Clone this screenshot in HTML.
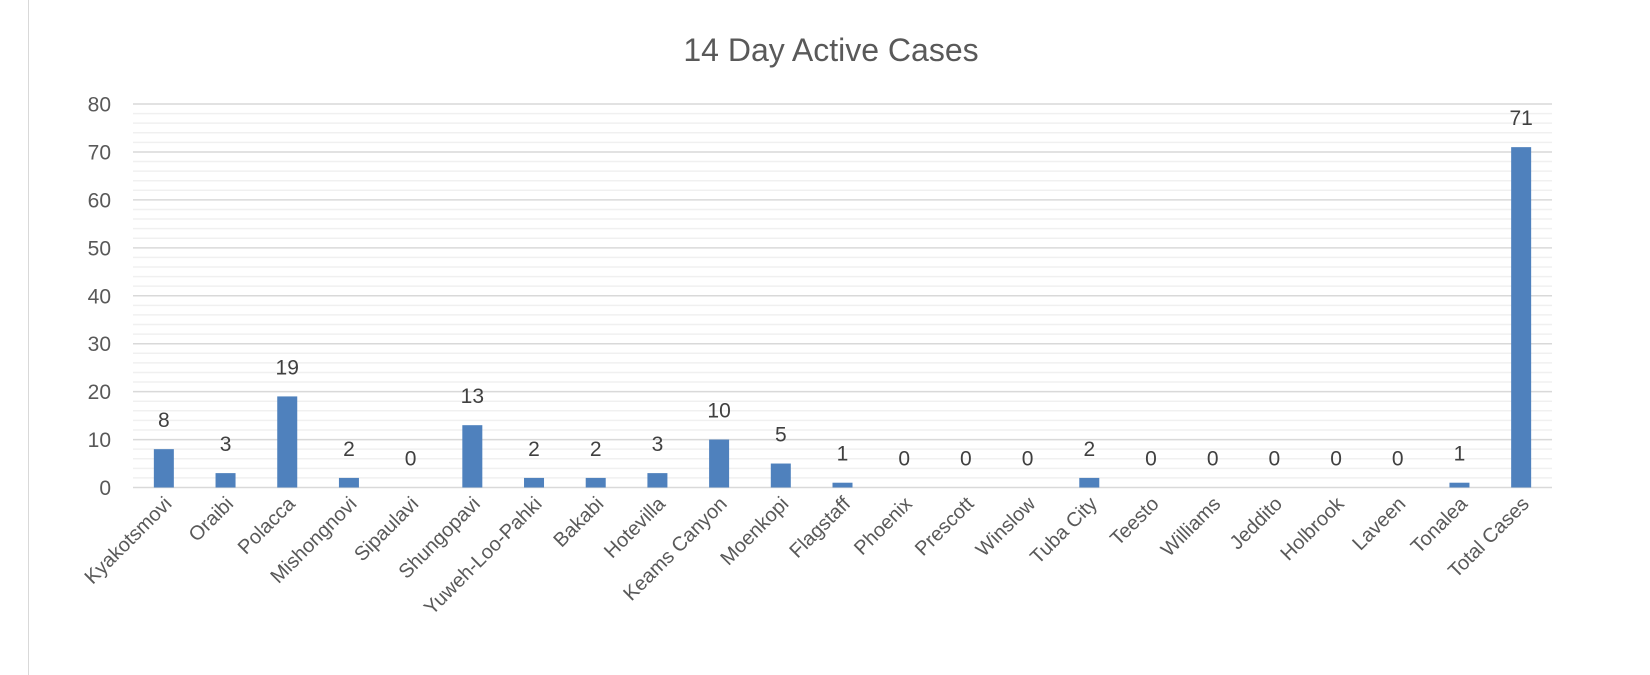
<!DOCTYPE html>
<html><head><meta charset="utf-8"><style>
html,body{margin:0;padding:0;background:#fff;}
svg{display:block;font-family:"Liberation Sans",Calibri,sans-serif;}
</style></head><body>
<svg id="c" width="1650" height="675">
<line x1="28.5" y1="0" x2="28.5" y2="675" stroke="#d9d9d9"/>
<text x="831" y="61" text-anchor="middle" font-size="32" fill="#595959">14 Day Active Cases</text>
<g id="grid"></g><g id="bars"></g><g id="labels"></g>
</svg>
<script>
const categories=["Kyakotsmovi","Oraibi","Polacca","Mishongnovi","Sipaulavi","Shungopavi","Yuweh-Loo-Pahki","Bakabi","Hotevilla","Keams Canyon","Moenkopi","Flagstaff","Phoenix","Prescott","Winslow","Tuba City","Teesto","Williams","Jeddito","Holbrook","Laveen","Tonalea","Total Cases"];
const values=[8,3,19,2,0,13,2,2,3,10,5,1,0,0,0,2,0,0,0,0,0,1,71];
const yTicks=[0,10,20,30,40,50,60,70,80];
const ns="http://www.w3.org/2000/svg";
const y0=487.5,yTop=104,yMax=80;
const y=v=>y0-(v/yMax)*(y0-yTop);
const plotL=133,plotR=1552;
const band=(plotR-plotL)/categories.length;
const x=i=>plotL+band*(i+0.5);
function mk(t,p,a){const e=document.createElementNS(ns,t);for(const k in a)e.setAttribute(k,a[k]);p.appendChild(e);return e;}
const grid=document.getElementById('grid'),bars=document.getElementById('bars'),labels=document.getElementById('labels');
for(let v=2;v<yMax;v+=2){if(v%10===0)continue;
const l=mk('line',grid,{x1:plotL,x2:plotR,y1:y(v),y2:y(v),stroke:'#f0f0f0','stroke-width':1.5});

}
yTicks.forEach(v=>{
const l=mk('line',grid,{x1:plotL,x2:plotR,y1:y(v),y2:y(v),stroke:'#d9d9d9','stroke-width':1.5});


const t=mk('text',grid,{x:111,y:y(v)+7.5,'text-anchor':'end','font-size':21,fill:'#595959'});
t.textContent=v;

});
values.forEach((v,i)=>{
const cx=x(i);
const r=mk('rect',bars,{x:cx-10,y:y(v),width:20,height:y0-y(v),fill:'#4f81bd'});


const t=mk('text',labels,{x:cx,y:y(v)-22,'text-anchor':'middle','font-size':21,fill:'#404040'});
t.textContent=v;


const c=mk('text',labels,{x:cx+9,y:505,'text-anchor':'end','font-size':20,fill:'#595959',transform:`rotate(-45 ${cx+9} 505)`});
c.textContent=categories[i];

});
</script>
</body></html>
